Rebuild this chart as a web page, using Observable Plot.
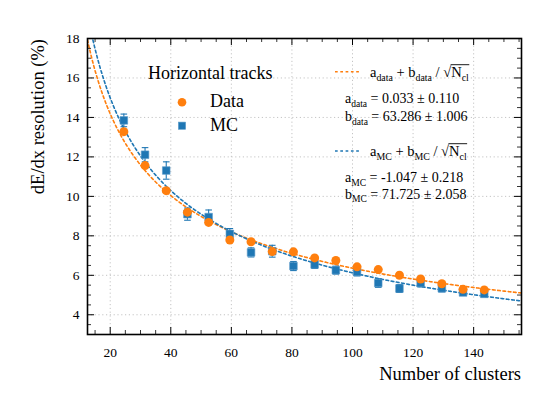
<!DOCTYPE html>
<html>
<head>
<meta charset="utf-8">
<script src="https://cdn.jsdelivr.net/npm/d3@7"></script>
<script src="https://cdn.jsdelivr.net/npm/@observablehq/plot@0.6"></script>
<style>
  html, body { margin: 0; padding: 0; background: #fff; }
  #chart svg, #chart svg text, #chart svg tspan { font-family: "Liberation Serif", "Times New Roman", "DejaVu Serif", serif !important; }
</style>
</head>
<body>
<div id="chart"></div>
<script>
// ---- data ----
const nClusters = [24.5, 31.5, 38.5, 45.5, 52.5, 59.5, 66.5, 73.5, 80.5, 87.5, 94.5, 101.5, 108.5, 115.5, 122.5, 129.5, 136.5, 143.5];
const dataRes   = [13.28, 11.56, 10.29, 9.20, 8.68, 7.79, 7.70, 7.20, 7.19, 6.88, 6.75, 6.43, 6.29, 6.00, 5.81, 5.57, 5.29, 5.26];
const mcRes     = [13.85, 12.11, 11.31, 9.10, 8.95, 8.10, 7.16, 7.22, 6.47, 6.55, 6.26, 6.17, 5.61, 5.33, 5.61, 5.34, 5.13, 5.06];
const mcErr     = [0.32, 0.36, 0.44, 0.31, 0.36, 0.27, 0.23, 0.30, 0.23, 0.20, 0.20, 0.20, 0.22, 0.20, 0.20, 0.18, 0.15, 0.15];

// fit parameters (a + b / sqrt(N_cl))
const fitNames = ["data", "MC"];
const fitA     = [0.033, -1.047];
const fitAErr  = [0.110, 0.218];
const fitB     = [63.286, 71.725];
const fitBErr  = [1.006, 2.058];
const fitColors = ["#ff7f0e", "#1f77b4"];

// axes
const xDomain = [12.5, 155.8];
const yDomain = [3, 18];
const xMajorTicks = [20, 40, 60, 80, 100, 120, 140];
const yMajorTicks = [4, 6, 8, 10, 12, 14, 16, 18];
const xMinorTicks = d3.range(15, 156, 5).filter(v => v % 20 !== 0);
const yMinorTicks = d3.range(3.5, 18, 0.5).filter(v => v % 2 !== 0);

const xLabel = "Number of clusters";
const yLabel = "dE/dx resolution (%)";
const legendTitle = "Horizontal tracks";
const seriesLabels = ["Data", "MC"];

// ---- build tables ----
const dataPts = nClusters.map((x, i) => ({x, y: dataRes[i]}));
const mcPts = nClusters.map((x, i) => ({x, y: mcRes[i], lo: mcRes[i] - mcErr[i], hi: mcRes[i] + mcErr[i]}));
const fitCurves = fitNames.map((name, k) =>
  d3.range(xDomain[0], xDomain[1] + 0.01, 0.25).map(x => ({series: name, x, y: fitA[k] + fitB[k] / Math.sqrt(x)}))
);

const SERIF = '"Liberation Serif", "Times New Roman", "DejaVu Serif", serif';
const W = 548, H = 394;
const mL = 87, mR = 27, mT = 38, mB = 60;
const fw = W - mL - mR, fh = H - mT - mB;
const majorLen = 7, minorLen = 4;
const dash = "2.7,2.6";

const capSymbol = {
  draw(ctx, size) {
    const r = Math.sqrt(size / Math.PI);
    ctx.moveTo(-r, 0); ctx.lineTo(r, 0);
  }
};

const grid = {stroke: "#c4c4c4", strokeWidth: 1, strokeDasharray: "1.2,2.6"};

const svg = Plot.plot({
  width: W, height: H,
  marginLeft: mL, marginRight: mR, marginTop: mT, marginBottom: mB,
  style: {fontFamily: SERIF, fontSize: "13.5px", background: "white", color: "black"},
  x: {domain: xDomain, ticks: xMajorTicks, tickSize: 0, tickPadding: 13, label: null},
  y: {domain: yDomain, ticks: yMajorTicks, tickSize: 0, tickPadding: 8, label: null},
  marks: [
    Plot.ruleX(xMajorTicks, {...grid}),
    Plot.ruleY(yMajorTicks, {...grid}),
    Plot.line(fitCurves[0], {x: "x", y: "y", stroke: fitColors[0], strokeWidth: 1.6, strokeDasharray: dash, clip: true}),
    Plot.line(fitCurves[1], {x: "x", y: "y", stroke: fitColors[1], strokeWidth: 1.6, strokeDasharray: dash, clip: true}),
    Plot.ruleX(mcPts, {x: "x", y1: "lo", y2: "hi", stroke: fitColors[1], strokeWidth: 1.1}),
    Plot.dot(mcPts, {x: "x", y: "lo", symbol: capSymbol, r: 3.3, stroke: fitColors[1], strokeWidth: 1.1, fill: "none"}),
    Plot.dot(mcPts, {x: "x", y: "hi", symbol: capSymbol, r: 3.3, stroke: fitColors[1], strokeWidth: 1.1, fill: "none"}),
    Plot.dot(mcPts, {x: "x", y: "y", symbol: "square", r: 4.3, fill: fitColors[1], stroke: "#5a9bc9", strokeWidth: 0.6}),
    Plot.dot(dataPts, {x: "x", y: "y", r: 4.5, fill: fitColors[0], stroke: "none"}),
    // inward ticks: bottom, top, left, right
    Plot.ruleX(xMajorTicks, {insetTop: fh - majorLen, stroke: "black", strokeWidth: 1}),
    Plot.ruleX(xMinorTicks, {insetTop: fh - minorLen, stroke: "black", strokeWidth: 0.8}),
    Plot.ruleX(xMajorTicks, {insetBottom: fh - majorLen, stroke: "black", strokeWidth: 1}),
    Plot.ruleX(xMinorTicks, {insetBottom: fh - minorLen, stroke: "black", strokeWidth: 0.8}),
    Plot.ruleY(yMajorTicks, {insetRight: fw - majorLen, stroke: "black", strokeWidth: 1}),
    Plot.ruleY(yMinorTicks, {insetRight: fw - minorLen, stroke: "black", strokeWidth: 0.8}),
    Plot.ruleY(yMajorTicks, {insetLeft: fw - majorLen, stroke: "black", strokeWidth: 1}),
    Plot.ruleY(yMinorTicks, {insetLeft: fw - minorLen, stroke: "black", strokeWidth: 0.8}),
    Plot.frame({stroke: "black", strokeWidth: 1.6})
  ]
});
document.getElementById("chart").appendChild(svg);

// ---- annotations ----
const g = d3.select(svg).append("g")
  .attr("fill", "black").attr("text-anchor", "start").attr("font-family", SERIF);

// axis labels
g.append("text").attr("x", W - mR).attr("y", 380).attr("text-anchor", "end")
  .attr("font-size", 18.5).text(xLabel);
g.append("text").attr("transform", `translate(44,${mT + 1}) rotate(-90)`).attr("text-anchor", "end")
  .attr("font-size", 18.5).text(yLabel);

// series legend
g.append("text").attr("x", 148).attr("y", 78.5).attr("font-size", 18).text(legendTitle);
g.append("circle").attr("cx", 182).attr("cy", 102.3).attr("r", 4.3).attr("fill", fitColors[0]);
g.append("rect").attr("x", 182 - 3.6).attr("y", 125.7 - 3.6).attr("width", 7.2).attr("height", 7.2)
  .attr("fill", fitColors[1]).attr("stroke", "#5a9bc9").attr("stroke-width", 0.6);
g.append("text").attr("x", 210).attr("y", 107).attr("font-size", 18).text(seriesLabels[0]);
g.append("text").attr("x", 210).attr("y", 131).attr("font-size", 18).text(seriesLabels[1]);

function rich(x, y, parts, fs) {
  const t = g.append("text").attr("x", x).attr("y", y).attr("font-size", fs);
  let shift = 0;
  for (const p of parts) {
    const target = p.sub ? fs * 0.28 : 0;
    const ts = t.append("tspan").attr("dy", target - shift).text(p.t);
    if (p.sub) ts.attr("font-size", fs * 0.68);
    shift = target;
  }
  return t;
}

const fitBlocks = [
  {lineY: 71.7, formulaY: 76.5, aY: 103.3, bY: 120.7},
  {lineY: 151,  formulaY: 155.5, aY: 181.7, bY: 198.5}
];
fitNames.forEach((name, k) => {
  const b = fitBlocks[k];
  g.append("line").attr("x1", 335).attr("x2", 361).attr("y1", b.lineY).attr("y2", b.lineY)
    .attr("stroke", fitColors[k]).attr("stroke-width", 1.6).attr("stroke-dasharray", dash);
  const parts = [
    {t: "a"}, {t: name, sub: true}, {t: " + b"}, {t: name, sub: true}, {t: " / "},
    {t: "\u221A"}, {t: "N"}, {t: "cl", sub: true}
  ];
  const t = rich(370, b.formulaY, parts, 14.5);
  // overline for the square root
  const node = t.node();
  const txt = parts.map(p => p.t).join("");
  const iSqrt = txt.indexOf("\u221A");
  const eS = node.getExtentOfChar(iSqrt);
  const eEnd = node.getExtentOfChar(txt.length - 1);
  const yTop = eS.y + 1.2;
  g.append("line").attr("x1", eS.x + eS.width - 0.6).attr("x2", eEnd.x + eEnd.width + 0.5)
    .attr("y1", yTop).attr("y2", yTop).attr("stroke", "black").attr("stroke-width", 0.9);

  rich(345, b.aY, [{t: "a"}, {t: name, sub: true}, {t: ` = ${fitA[k].toFixed(3)} \u00B1 ${fitAErr[k].toFixed(3)}`}], 14);
  rich(345, b.bY, [{t: "b"}, {t: name, sub: true}, {t: ` = ${fitB[k].toFixed(3)} \u00B1 ${fitBErr[k].toFixed(3)}`}], 14);
});
</script>
</body>
</html>
